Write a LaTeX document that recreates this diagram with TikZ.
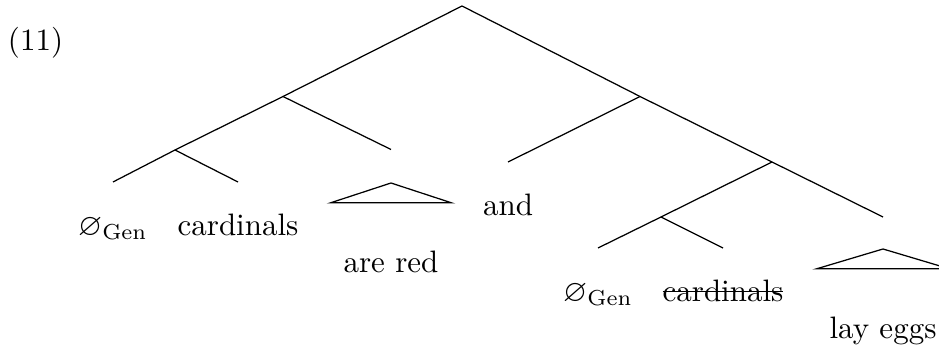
\documentclass[tikz,border=0pt]{standalone}
\usepackage{amsmath,amssymb}
\usepackage{tikz}
\usetikzlibrary{positioning}
\newcommand{\gen}{$\varnothing_{\mathrm{Gen}}$}
\newsavebox{\strikebox}
\newcommand{\struck}[1]{\sbox{\strikebox}{#1}\rlap{\rule[2.9pt]{\wd\strikebox}{0.4pt}}\usebox{\strikebox}}
\tikzset{
  branch/.style   = {line width=0.4pt},
  leaf/.style     = {inner sep=0pt, text height=7pt, text depth=2pt},
  roofleaf/.style = {leaf, inner xsep=4pt},
  roof/.style     = {line width=0.4pt, line join=miter},
}

\begin{document}
\begin{tikzpicture}[x=0.011337cm, y=-0.011337cm, node distance=10pt]
  \useasboundingbox (0,0) rectangle (939,347);
  \node[anchor=base, inner sep=0pt] (exno) at (35.5,51) {(11)};
  % branching points and tips
  \coordinate (top)    at (462,6);
  \coordinate (nL)     at (283,96.5);
  \coordinate (nR)     at (640,96.5);
  \coordinate (nLL)    at (175,150);
  \coordinate (tAre)   at (391,149.5);
  \coordinate (tGen1)  at (113,182);
  \coordinate (tCard1) at (238,182);
  \coordinate (tAnd)   at (508,162);
  \coordinate (nRR)    at (772,162);
  \coordinate (nRRL)   at (661,217);
  \coordinate (tLay)   at (883,217);
  \coordinate (tGen2)  at (598,248);
  \coordinate (tCard2) at (723,248);
  \coordinate (rAre)   at (391,183);
  \coordinate (rLay)   at (883,249);
  \draw[branch] (top) -- (nL);   \draw[branch] (top) -- (nR);
  \draw[branch] (nL) -- (nLL);   \draw[branch] (nL) -- (tAre);
  \draw[branch] (nLL) -- (tGen1); \draw[branch] (nLL) -- (tCard1);
  \draw[branch] (nR) -- (tAnd);  \draw[branch] (nR) -- (nRR);
  \draw[branch] (nRR) -- (nRRL); \draw[branch] (nRR) -- (tLay);
  \draw[branch] (nRRL) -- (tGen2); \draw[branch] (nRRL) -- (tCard2);
  % leaves
  \node[leaf, below=of tGen1]  (gen1)  {\gen};
  \node[leaf, below=of tCard1] (card1) {cardinals};
  \node[leaf, below=of tAnd]   (conj)  {and};
  \node[leaf, below=of tGen2]  (gen2)  {\gen};
  \node[leaf, below=of tCard2] (card2) {\struck{cardinals}};
  \node[roofleaf, below=21.7pt of rAre] (ared) {are red};
  \node[roofleaf, below=21.7pt of rLay] (leggs) {lay eggs};
  \draw[roof] (rAre) -- ([yshift=15.3pt]ared.north west) -- ([yshift=15.3pt]ared.north east) -- cycle;
  \draw[roof] (rLay) -- ([yshift=15.3pt]leggs.north west) -- ([yshift=15.3pt]leggs.north east) -- cycle;
\end{tikzpicture}
\end{document}
